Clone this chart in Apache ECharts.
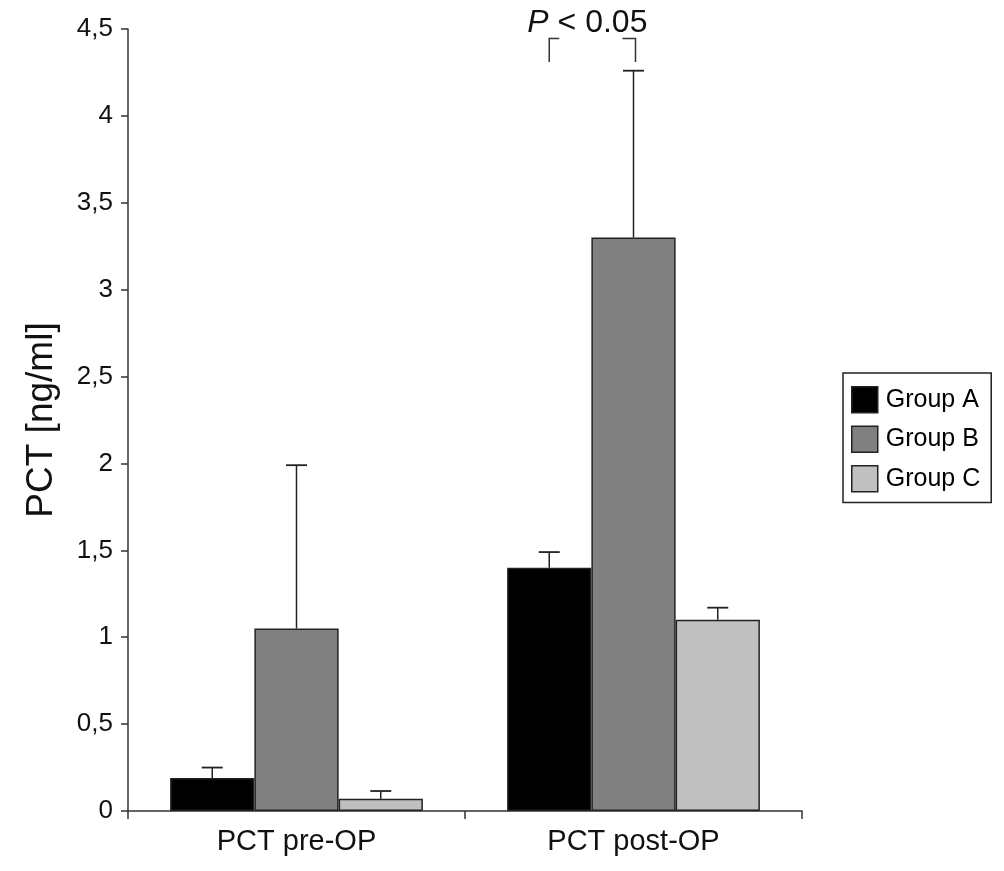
<!DOCTYPE html>
<html>
<head>
<meta charset="utf-8">
<script src="https://cdn.jsdelivr.net/npm/echarts@6/dist/echarts.min.js"></script>
<style>html,body{margin:0;padding:0;background:#fff}#c{width:1004px;height:871px}</style>
</head>
<body>
<div id="c"></div>
<script>
var categories = ['PCT pre-OP', 'PCT post-OP'];
var groupNames = ['Group A', 'Group B', 'Group C'];
var meanA = [0.19, 1.40];
var meanB = [1.05, 3.30];
var meanC = [0.07, 1.10];
var sdA = [0.06, 0.09];
var sdB = [0.94, 0.96];
var sdC = [0.045, 0.07];
var yTicks = { min: 0, max: 4.5, interval: 0.5 };
var annotation = { category: 1, from: 0, to: 1, top: 4.445, low: 4.31, text: 'P < 0.05' };

var colors = ['#000000', '#808080', '#c0c0c0'];
var means = [meanA, meanB, meanC];
var sds = [sdA, sdB, sdC];
var FONT = 'Liberation Sans, Arial, sans-serif';
var BAR_FRAC = 0.25;

var chart = echarts.init(document.getElementById('c'), null, { renderer: 'canvas' });

var series = [];
groupNames.forEach(function (name, g) {
  series.push({
    name: name,
    type: 'bar',
    barWidth: (BAR_FRAC * 100) + '%',
    barGap: '0%',
    data: means[g],
    itemStyle: { color: colors[g], borderColor: '#222', borderWidth: 1.5 },
    emphasis: { disabled: true },
    z: 2
  });
});
groupNames.forEach(function (name, g) {
  series.push({
    type: 'custom',
    name: name + ' err',
    z: 3,
    silent: true,
    data: categories.map(function (c, i) { return [i, means[g][i], means[g][i] + sds[g][i]]; }),
    renderItem: function (params, api) {
      var band = api.size([1, 0])[0];
      var off = (g - 1) * band * BAR_FRAC;
      var b = api.coord([api.value(0), api.value(1)]);
      var t = api.coord([api.value(0), api.value(2)]);
      var x = b[0] + off;
      var capHalf = 10.5;
      return {
        type: 'group',
        children: [
          { type: 'line', shape: { x1: x, y1: b[1], x2: x, y2: t[1] }, style: { stroke: '#222', lineWidth: 1.5 } },
          { type: 'line', shape: { x1: x - capHalf, y1: t[1], x2: x + capHalf, y2: t[1] }, style: { stroke: '#222', lineWidth: 1.8 } }
        ]
      };
    }
  });
});
series.push({
  type: 'custom',
  name: 'annotation',
  z: 4,
  silent: true,
  data: [[annotation.category, annotation.top, annotation.low]],
  renderItem: function (params, api) {
    var band = api.size([1, 0])[0];
    var c = api.coord([api.value(0), api.value(1)]);
    var lo = api.coord([api.value(0), api.value(2)]);
    var xL = c[0] + (annotation.from - 1) * band * BAR_FRAC;
    var xR = c[0] + (annotation.to - 1) * band * BAR_FRAC + 2;
    var yT = c[1], yL = lo[1];
    return {
      type: 'group',
      children: [
        { type: 'polyline', shape: { points: [[xL, yL], [xL, yT], [xL + 10, yT]] }, style: { stroke: '#333', lineWidth: 1.5, fill: null } },
        { type: 'polyline', shape: { points: [[xR - 13, yT], [xR, yT], [xR, yL]] }, style: { stroke: '#333', lineWidth: 1.5, fill: null } },
        { type: 'text', x: (xL + xR) / 2 - 5, y: yT + 1,
          style: {
            text: '{i|P}{n|' + annotation.text.slice(1) + '}',
            align: 'center', verticalAlign: 'bottom',
            rich: {
              i: { fontStyle: 'italic', fontSize: 32, fontFamily: FONT, fill: '#111' },
              n: { fontSize: 32, fontFamily: FONT, fill: '#111' }
            }
          }
        }
      ]
    };
  }
});

chart.setOption({
  animation: false,
  backgroundColor: '#fff',
  grid: { left: 128, right: 202, top: 29, bottom: 60, containLabel: false },
  legend: {
    data: groupNames,
    orient: 'vertical',
    left: 843, top: 373,
    padding: [13, 11, 10, 8],
    itemWidth: 26, itemHeight: 26, itemGap: 12,
    borderColor: '#222', borderWidth: 1.5,
    icon: 'rect',
    itemStyle: { borderColor: '#222', borderWidth: 1.5 },
    selectedMode: false,
    textStyle: { fontSize: 25, lineHeight: 26, fontFamily: FONT, color: '#000', padding: [0, 0, 0, 3] }
  },
  xAxis: {
    type: 'category',
    data: categories,
    boundaryGap: true,
    axisLine: { lineStyle: { color: '#333', width: 1.5 } },
    axisTick: { show: true, length: 8, inside: false, alignWithLabel: false, lineStyle: { color: '#333', width: 1.5 } },
    axisLabel: { fontSize: 29, fontFamily: FONT, color: '#111', margin: 16 },
    splitLine: { show: false }
  },
  yAxis: {
    type: 'value',
    min: yTicks.min, max: yTicks.max, interval: yTicks.interval,
    name: 'PCT [ng/ml]',
    nameLocation: 'middle',
    nameGap: 68,
    nameTextStyle: { fontSize: 37, fontFamily: FONT, color: '#111' },
    axisLine: { show: true, lineStyle: { color: '#333', width: 1.5 } },
    axisTick: { show: true, length: 7, lineStyle: { color: '#333', width: 1.5 } },
    axisLabel: {
      fontSize: 26, fontFamily: FONT, color: '#111', margin: 15,
      formatter: function (v) { return String(v).replace('.', ','); }
    },
    splitLine: { show: false }
  },
  series: series
});
</script>
</body>
</html>
